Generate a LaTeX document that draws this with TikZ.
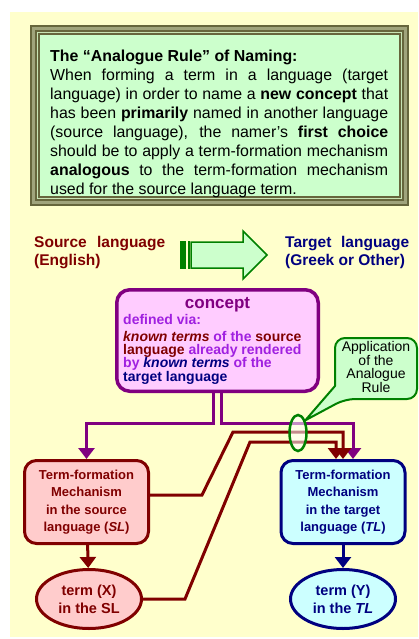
\documentclass[tikz,border=0pt]{standalone}
\usepackage{fontspec}
\setmainfont{Liberation Sans}
\usetikzlibrary{arrows.meta,shapes.geometric}

\definecolor{paper}{HTML}{FFFFCC}
\definecolor{frameDark}{HTML}{66663C}
\definecolor{frameMid}{HTML}{A0A47C}
\definecolor{frameLight}{HTML}{C8E4B4}
\definecolor{mint}{HTML}{CCFFCC}
\definecolor{leafgreen}{HTML}{008000}
\definecolor{maroonc}{HTML}{800000}
\definecolor{navyc}{HTML}{000080}
\definecolor{plumc}{HTML}{800080}
\definecolor{violetc}{HTML}{A020E0}
\definecolor{pinkfill}{HTML}{FFCCFF}
\definecolor{rosefill}{HTML}{FFCCCC}
\definecolor{cyanfill}{HTML}{CCFFFF}

\begin{document}
\begin{tikzpicture}[x=1pt,y=-1pt,
  wire/.style={line width=3pt,-{Triangle[width=16pt,length=11pt]}},
  mechbox/.style={rectangle, rounded corners=12pt, line width=3pt,
    minimum width=124pt, minimum height=83pt, inner sep=0pt, align=center,
    font=\bfseries\fontsize{13}{17.5}\selectfont},
  termoval/.style={ellipse, line width=3pt, minimum width=105pt,
    minimum height=59pt, inner sep=0pt, align=center,
    font=\bfseries\fontsize{14.5}{18}\selectfont},
  heading/.style={anchor=base west, inner sep=0pt, text width=#1,
    align=justify, font=\bfseries\fontsize{15.5}{18}\selectfont}]

\useasboundingbox (0,0) rectangle (418,639);
\fill[white] (0,0) rectangle (418,639);
\fill[paper] (10,12) rectangle (418,637);

% framed statement of the rule
\fill[frameDark]  (30,25) rectangle (409,206);
\fill[frameMid]   (32,27) rectangle (407,204);
\fill[frameDark]  (35,30) rectangle (404,201);
\fill[frameLight] (37,32) rectangle (402,199);
\fill[frameDark]  (38,33) rectangle (401,198);
\fill[mint]       (40,35) rectangle (399,196);

\node[anchor=base west, inner sep=0pt, text width=338pt, align=justify,
      font=\fontsize{15.9}{19}\selectfont] (rule) at (50,61.5)
{\hyphenpenalty=10000\exhyphenpenalty=10000%
\textbf{The “Analogue Rule” of Naming:}\\
When forming a term in a language (target\linebreak
language) in order to name a \textbf{new concept} that\linebreak
has been \textbf{primarily} named in another language\linebreak
(source language), the namer’s \textbf{first choice}\linebreak
should be to apply a term-formation mechanism\linebreak
\textbf{analogous} to the term-formation mechanism\linebreak
used for the source language term.};

% source / target headings and the striped arrow between them
\node[heading=131pt, text=maroonc] (srclang) at (34,247)
  {Source language\linebreak (English)};
\node[heading=124pt, text=navyc] (tgtlang) at (285,247)
  {Target language\linebreak (Greek or Other)};

\fill[leafgreen] (180,241) rectangle (186,269);
\fill[leafgreen] (187.5,241) rectangle (190,269);
\draw[leafgreen, fill=mint, line width=1.5pt]
  (191,242) -- (243,242) -- (243,231) -- (267,255) -- (243,279)
  -- (243,268) -- (191,268) -- cycle;

% concept box
\node[rectangle, rounded corners=13pt, draw=plumc, fill=pinkfill,
      line width=3.5pt, minimum width=201.5pt, minimum height=101.5pt]
      (concept) at (217.5,340.5) {};
\node[anchor=base, inner sep=0pt, text=plumc,
      font=\bfseries\fontsize{17}{20}\selectfont] (ctitle) at (217.5,308) {concept};
\node[anchor=base west, inner sep=0pt, text=violetc,
      font=\bfseries\fontsize{14}{14}\selectfont] (cvia) at (123,324) {defined via:};
% base of this multi-line node is its last line
\node[anchor=base west, inner sep=0pt, align=left,
      font=\bfseries\fontsize{14}{13.3}\selectfont] (cbody) at (123,381)
{{\color{maroonc}\textit{known terms}} {\color{violetc}of the} {\color{maroonc}source}\\
 {\color{maroonc}language} {\color{violetc}already rendered}\\
 {\color{violetc}by} {\color{navyc}\textit{known terms}} {\color{violetc}of the}\\
 {\color{navyc}target language}};

% term-formation mechanisms and resulting terms
\node[mechbox, draw=maroonc, fill=rosefill, text=maroonc] (SL) at (86.5,502)
  {Term-formation\\Mechanism\\in the source\\language (\textit{SL})};
\node[mechbox, draw=navyc, fill=cyanfill, text=navyc] (TL) at (343,502)
  {Term-formation\\Mechanism\\in the target\\language (\textit{TL})};
\node[termoval, draw=maroonc, fill=rosefill, text=maroonc] (X) at (89,599)
  {term (X)\\in the SL};
\node[termoval, draw=navyc, fill=cyanfill, text=navyc] (Y) at (343,599)
  {term (Y)\\in the \textit{TL}};

\draw[wire, maroonc] (SL) -- (X);
\draw[wire, navyc] (TL) -- (Y);

% concept feeds both mechanisms
\draw[wire, plumc] ([xshift=-4pt]concept.south) -- ++(0,30) -| (SL.north);
\draw[wire, plumc] ([xshift=4pt]concept.south) -- ++(0,30) -| ([xshift=10pt]TL.north);

% source mechanism and source term carried over to the target side
\draw[wire, maroonc] (SL.east |- 0,495) -- (202,495) -- (233,432) -| (TL.north);
\draw[wire, maroonc] (X.east) -- (185,599) -- (250,442) -| ([xshift=-7pt]TL.north);

% highlight and callout
\node[ellipse, draw=leafgreen, line width=2.5pt, fill=white, fill opacity=0.55,
      draw opacity=1, minimum width=17pt, minimum height=36pt, inner sep=0pt]
      (hl) at (298,433) {};
\path[draw=leafgreen, fill=mint, line width=2pt, line join=round]
  (335,386) [rounded corners=10pt] -- (335,338) -- (417,338) -- (417,399)
  -- (345,399) [sharp corners] -- (hl.60) -- cycle;
\node[align=center, inner sep=0pt, font=\fontsize{14}{13.5}\selectfont]
  (callout) at (376,367) {Application\\of the\\Analogue\\Rule};

\end{tikzpicture}
\end{document}
